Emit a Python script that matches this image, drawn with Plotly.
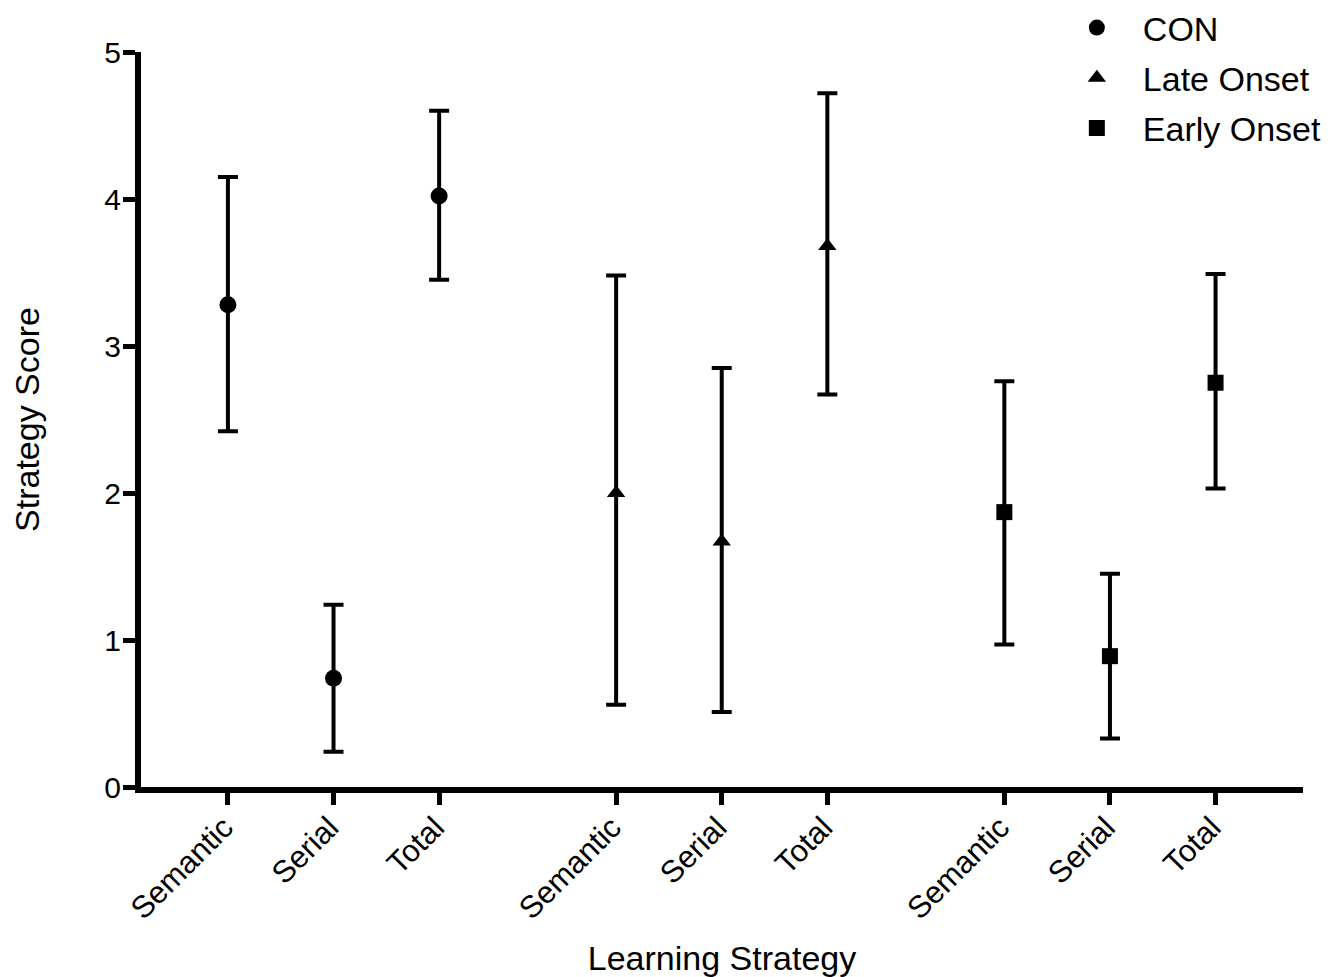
import plotly.graph_objects as go

categories = ["Semantic", "Serial", "Total"]
groups = ["CON", "Late Onset", "Early Onset"]
symbols = ["circle", "triangle-up", "square"]

means = {
    "CON": [3.28, 0.74, 4.02],
    "Late Onset": [2.00, 1.67, 3.68],
    "Early Onset": [1.87, 0.89, 2.75],
}
upper = {
    "CON": [4.15, 1.24, 4.60],
    "Late Onset": [3.48, 2.85, 4.72],
    "Early Onset": [2.76, 1.45, 3.49],
}
lower = {
    "CON": [2.42, 0.24, 3.45],
    "Late Onset": [0.56, 0.51, 2.67],
    "Early Onset": [0.97, 0.33, 2.03],
}

GROUP_STEP = 3.676
FONT = "Arial, Liberation Sans, Helvetica, sans-serif"

fig = go.Figure()
tickvals, ticktext = [], []
for gi, g in enumerate(groups):
    xs = [gi * GROUP_STEP + ci for ci in range(len(categories))]
    tickvals += xs
    ticktext += categories
    m = means[g]
    fig.add_trace(go.Scatter(
        x=xs, y=m, mode="markers", name=g, legendgroup=g,
        marker=dict(symbol=symbols[gi], size=17 if gi == 0 else 16, color="black"),
        error_y=dict(type="data", symmetric=False,
                     array=[u - v for u, v in zip(upper[g], m)],
                     arrayminus=[v - l for v, l in zip(m, lower[g])],
                     color="black", thickness=4, width=10),
    ))

# page body has an 8px margin, so the figure is 8px smaller than the window
fig.update_layout(
    width=1334, height=969,
    margin=dict(l=133, r=39, t=44, b=190, autoexpand=False),
    paper_bgcolor="white", plot_bgcolor="white",
    font=dict(family=FONT, color="black", size=30),
    showlegend=True,
    legend=dict(x=0.783, y=1.0722, xanchor="left", yanchor="top",
                font=dict(size=34, family=FONT), tracegroupgap=3, itemwidth=82,
                traceorder="grouped", bgcolor="rgba(0,0,0,0)"),
    xaxis=dict(range=[-0.823, 10.18], tickmode="array", tickvals=tickvals,
               ticktext=ticktext, tickangle=-45, ticks="outside", ticklen=12,
               tickwidth=5, tickcolor="black", showline=True, linewidth=6,
               linecolor="black", showgrid=False, zeroline=False, automargin=False,
               ticklabelstandoff=-8, ticklabelshift=-4,
               tickfont=dict(size=31, family=FONT),
               title=dict(text="Learning Strategy", font=dict(size=34, family=FONT), standoff=25)),
    yaxis=dict(range=[0, 5], tickvals=[0, 1, 2, 3, 4, 5], ticks="outside", ticklen=12,
               tickwidth=5, tickcolor="black", showline=True, linewidth=6,
               linecolor="black", showgrid=False, zeroline=False, automargin=False,
               ticklabelstandoff=-4,
               tickfont=dict(size=30, family=FONT),
               title=dict(text="Strategy Score", font=dict(size=34, family=FONT), standoff=65)),
)

fig.write_html("out.html")
